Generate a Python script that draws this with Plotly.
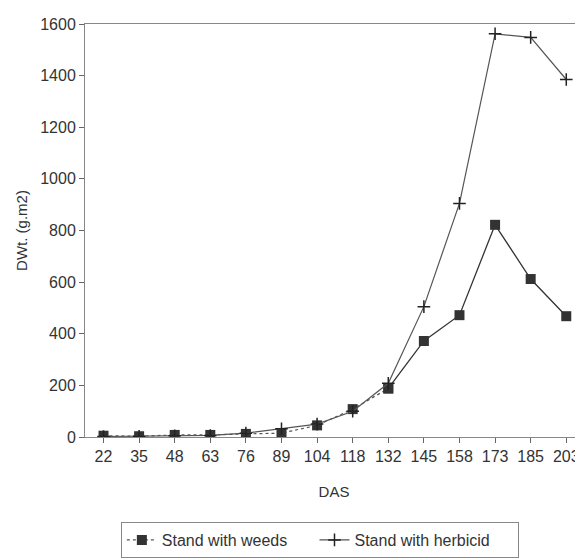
import plotly.graph_objects as go

das = ["22", "35", "48", "63", "76", "89", "104", "118", "132", "145", "158", "173", "185", "203"]
weeds = [5, 3, 8, 8, 12, 15, 45, 108, 188, 372, 472, 822, 612, 468]
herbicid = [2, 3, 5, 6, 15, 32, 50, 100, 208, 505, 905, 1562, 1548, 1385]

idx = list(range(len(das)))
FONT = "Liberation Sans Narrow, Liberation Sans, Arial, sans-serif"

fig = go.Figure()
# weeds: dotted early segment (legend) + solid later segment
fig.add_trace(go.Scatter(
    x=idx[:9], y=weeds[:9], mode="lines+markers", name="Stand with weeds     ",
    line=dict(color="#555555", width=1.2, dash="dot"),
    marker=dict(symbol="square", size=10, color="#333333"),
    legendrank=1,
))
fig.add_trace(go.Scatter(
    x=idx[8:], y=weeds[8:], mode="lines+markers", name="Stand with weeds",
    line=dict(color="#333333", width=1.3),
    marker=dict(symbol="square", size=10, color="#333333"),
    showlegend=False,
))
fig.add_trace(go.Scatter(
    x=idx, y=herbicid, mode="lines+markers", name="Stand with herbicid     ",
    line=dict(color="#555555", width=1.2),
    marker=dict(symbol="cross-thin", size=9, line=dict(color="#222222", width=1.5)),
    legendrank=2,
))

fig.update_layout(
    width=575, height=550,
    margin=dict(l=77, r=0, t=16, b=118),
    paper_bgcolor="white", plot_bgcolor="white",
    font=dict(family=FONT, size=16, color="#333333"),
    xaxis=dict(
        tickmode="array", tickvals=idx, ticktext=das,
        range=[-0.52, 13.47], automargin=False,
        showline=True, linecolor="#888888", linewidth=1, mirror=True,
        ticks="outside", ticklen=5, tickcolor="#666666",
        showgrid=False, zeroline=False,
        title=dict(text="DAS", standoff=22, font=dict(size=15)),
    ),
    yaxis=dict(
        range=[0, 1600], dtick=200, automargin=False,
        showline=True, linecolor="#888888", linewidth=1,
        ticks="outside", ticklen=5, tickcolor="#666666",
        showgrid=False, zeroline=False,
        title=dict(text="DWt. (g.m2)", standoff=8, font=dict(size=15)),
    ),
    legend=dict(
        orientation="h", x=0.072, y=-0.207, xanchor="left", yanchor="top",
        bordercolor="#888888", borderwidth=1, font=dict(size=16),
        itemwidth=30, traceorder="normal",
    ),
)

fig.write_html("out.html")
